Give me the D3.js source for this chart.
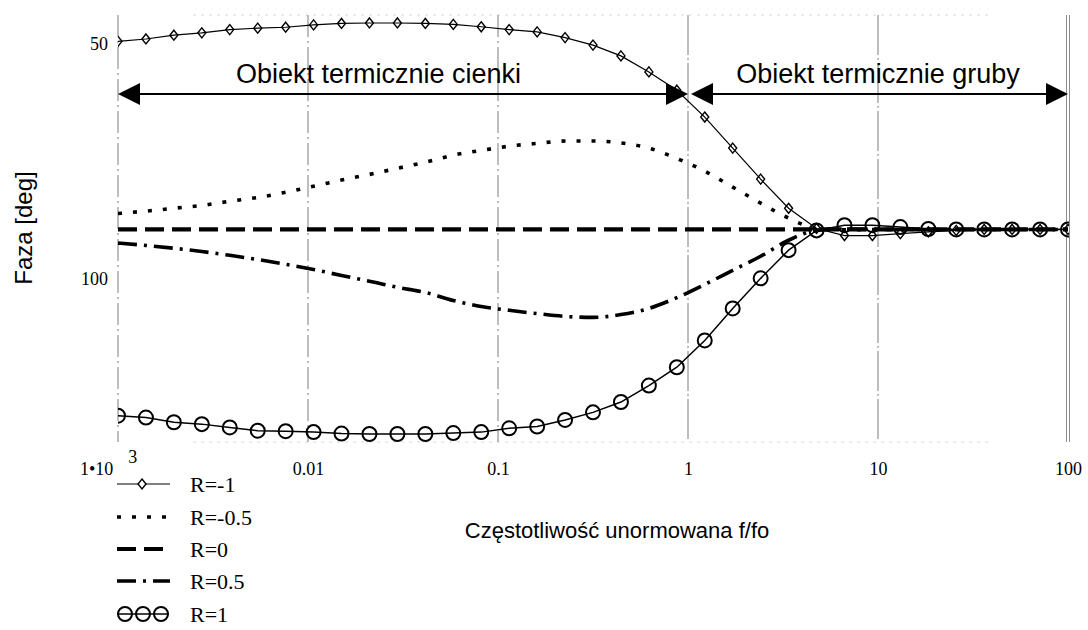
<!DOCTYPE html>
<html>
<head>
<meta charset="utf-8">
<script src="https://cdn.jsdelivr.net/npm/d3@7"></script>
<style>
  html, body { margin: 0; padding: 0; background: #fff; }
  svg { display: block; }
</style>
</head>
<body>
<svg id="chart" width="1088" height="630"></svg>
<script>
// Normalised frequency f/fo (log-spaced samples, 1e-3 .. 100)
const freq = [0.001, 0.001403, 0.001968, 0.002762, 0.003875, 0.005437, 0.007627,
  0.0107, 0.01501, 0.02106, 0.02955, 0.04146, 0.05818, 0.08162,
  0.1145, 0.1607, 0.2254, 0.3162, 0.4437, 0.6224, 0.8733,
  1.225, 1.719, 2.412, 3.384, 4.748, 6.661, 9.346,
  13.11, 18.40, 25.81, 36.21, 50.80, 71.28, 100];

// Phase [deg] for each reflection coefficient R
const phaseRm1 = [50.0, 49.5, 48.7, 48.2, 47.5, 47.2, 47.0, 46.5, 46.2, 46.1,
  46.1, 46.2, 46.4, 46.9, 47.5, 48.0, 49.2, 50.8, 53.1, 56.5,
  60.4, 66.1, 72.7, 79.3, 85.5, 89.8, 91.3, 91.3, 90.9, 90.5,
  90.2, 90.0, 90.0, 90.0, 90.0];
const phaseRm05 = [86.6, 86.1, 85.5, 84.9, 84.0, 83.2, 82.1, 80.8, 79.5, 78.3,
  77.0, 75.7, 74.2, 73.2, 72.3, 71.7, 71.2, 71.2, 71.6, 72.7,
  74.9, 77.6, 81.0, 84.4, 87.6, 89.8, 90.1, 90.0, 90.0, 90.0,
  90.0, 90.0, 90.0, 90.0, 90.0];
const phaseR0 = [90, 90, 90, 90, 90, 90, 90, 90, 90, 90,
  90, 90, 90, 90, 90, 90, 90, 90, 90, 90,
  90, 90, 90, 90, 90, 90, 90, 90, 90, 90,
  90, 90, 90, 90, 90];
const phaseR05 = [92.9, 93.4, 94.0, 94.7, 95.5, 96.4, 97.4, 98.5, 99.8, 101.0,
  102.3, 103.4, 105.1, 106.4, 107.2, 107.9, 108.5, 108.7, 108.1, 106.8,
  104.5, 101.7, 98.7, 95.7, 92.3, 90.2, 89.9, 90.0, 90.0, 90.0,
  90.0, 90.0, 90.0, 90.0, 90.0];
const phaseR1 = [129.6, 130.0, 131.0, 131.4, 132.1, 132.8, 132.9, 133.1, 133.4, 133.5,
  133.5, 133.5, 133.3, 133.1, 132.3, 131.9, 130.5, 128.9, 126.7, 123.2,
  119.3, 113.6, 106.8, 100.4, 94.4, 90.2, 89.1, 89.1, 89.5, 89.9,
  90.0, 90.0, 90.0, 90.0, 90.0];

const seriesNames = ["R=-1", "R=-0.5", "R=0", "R=0.5", "R=1"];
const xTicks = [0.001, 0.01, 0.1, 1, 10, 100];
const xTickLabels = ["1\u202210", "0.01", "0.1", "1", "10", "100"];
const yTicks = [50, 100];
const regionLabels = ["Obiekt termicznie cienki", "Obiekt termicznie gruby"];
const regionSpans = [[0.001, 1], [1, 100]];
const xTitle = "Częstotliwość unormowana f/fo";
const yTitle = "Faza [deg]";

const SERIF = "'Liberation Serif', 'Times New Roman', serif";
const SANS = "'Liberation Sans', Arial, sans-serif";

const svg = d3.select("#chart");

const x = d3.scaleLog().domain([0.001, 100]).range([118, 1068]);
const y = d3.scaleLinear().domain([44.4, 135.2]).range([15, 442]);
const [yTop, yBot] = y.range();

// line styles per series
const styles = [
  { dash: null,        width: 1.2, curve: d3.curveLinear,     marker: "diamond" },
  { dash: "4,11",      width: 3.6, curve: d3.curveMonotoneX,  marker: null },
  { dash: "19,8",      width: 4.2, curve: d3.curveMonotoneX,  marker: null },
  { dash: "19,7,3,7",  width: 3.6, curve: d3.curveMonotoneX,  marker: null },
  { dash: null,        width: 1.5, curve: d3.curveLinear,     marker: "circle" }
];
const seriesValues = [phaseRm1, phaseRm05, phaseR0, phaseR05, phaseR1];

// clip region for the plotted data
svg.append("defs").append("clipPath").attr("id", "plotClip")
  .append("rect").attr("x", x.range()[0]).attr("y", 0)
  .attr("width", x.range()[1] - x.range()[0] + 1).attr("height", yBot + 10);

// horizontal frame lines (faint dotted)
const frame = svg.append("g");
[yTop, yBot].forEach(v => {
  frame.append("line").attr("x1", x(0.0025)).attr("x2", x(40))
    .attr("y1", v).attr("y2", v)
    .attr("stroke", "#c8c8c8").attr("stroke-width", 1)
    .attr("stroke-dasharray", "2,6");
});

// vertical decade grid lines
xTicks.forEach((t, i) => {
  if (i === xTicks.length - 1) {
    [-1.5, 1.5].forEach(o => {
      frame.append("line").attr("x1", x(t) + o).attr("x2", x(t) + o)
        .attr("y1", yTop).attr("y2", yBot)
        .attr("stroke", "#8c8c8c").attr("stroke-width", 1);
    });
  } else {
    frame.append("line").attr("x1", x(t)).attr("x2", x(t))
      .attr("y1", yTop).attr("y2", yBot)
      .attr("stroke", "#7c7c7c").attr("stroke-width", 1)
      .attr("stroke-dasharray", i >= 3 ? "40,3,2,3" : "22,4,2,4");
  }
});

// data series
const plot = svg.append("g").attr("clip-path", "url(#plotClip)");
const diamondPath = (cx, cy) => `M${cx},${cy - 5}L${cx + 4},${cy}L${cx},${cy + 5}L${cx - 4},${cy}Z`;

seriesValues.forEach((vals, si) => {
  const st = styles[si];
  const pts = freq.map((f, i) => ({ f, v: vals[i] }));
  const line = d3.line().x(d => x(d.f)).y(d => y(d.v)).curve(st.curve);
  plot.append("path").datum(pts)
    .attr("d", line)
    .attr("fill", "none").attr("stroke", "#000")
    .attr("stroke-width", st.width)
    .attr("stroke-dasharray", st.dash);
  if (st.marker === "diamond") {
    plot.selectAll(null).data(pts).enter().append("path")
      .attr("d", d => diamondPath(x(d.f), y(d.v)))
      .attr("fill", "none").attr("stroke", "#000").attr("stroke-width", 1.4);
  } else if (st.marker === "circle") {
    plot.selectAll(null).data(pts).enter().append("circle")
      .attr("cx", d => x(d.f)).attr("cy", d => y(d.v)).attr("r", 7)
      .attr("fill", "none").attr("stroke", "#000").attr("stroke-width", 2);
  }
});

// region arrows with labels
const arrowY = 94;
const head = (tipX, dir) => {
  const L = 22, H = 11;
  return `M${tipX},${arrowY}L${tipX - dir * L},${arrowY - H}L${tipX - dir * L},${arrowY + H}Z`;
};
const regions = svg.append("g");
regionSpans.forEach((span, i) => {
  const x0 = x(span[0]) + (i === 1 ? 3 : 0);
  const x1 = x(span[1]);
  regions.append("line").attr("x1", x0 + 4).attr("x2", x1 - 4)
    .attr("y1", arrowY).attr("y2", arrowY)
    .attr("stroke", "#000").attr("stroke-width", 2);
  regions.append("path").attr("d", head(x0, -1)).attr("fill", "#000");
  regions.append("path").attr("d", head(x1, 1)).attr("fill", "#000");
});
const labelAt = [0.0235, 10];
regionLabels.forEach((t, i) => {
  regions.append("text").attr("x", x(labelAt[i])).attr("y", 83)
    .attr("text-anchor", "middle")
    .style("font-family", SANS).style("font-size", "27px").attr("fill", "#000")
    .text(t);
});

// y axis tick labels
const yAxis = d3.axisLeft(y).tickValues(yTicks).tickSize(0).tickPadding(10);
const gy = svg.append("g").attr("transform", `translate(${x.range()[0]},0)`).call(yAxis);
gy.select(".domain").remove();
gy.selectAll("text").style("font-family", SERIF).style("font-size", "18px")
  .attr("fill", "#000").attr("dy", "0.45em");

// x axis tick labels
const xAxis = d3.axisBottom(x).tickValues(xTicks)
  .tickFormat((d, i) => xTickLabels[i]).tickSize(0).tickPadding(20);
const gx = svg.append("g").attr("transform", `translate(0,${yBot})`).call(xAxis);
gx.select(".domain").remove();
gx.selectAll("text").style("font-family", SERIF).style("font-size", "18px").attr("fill", "#000");
gx.selectAll(".tick").filter(d => d === 0.001).select("text")
  .attr("dx", "-0.55em")
  .append("tspan").attr("dx", 15).attr("dy", -12).text("3");

// axis titles
svg.append("text").attr("transform", `translate(32,228) rotate(-90)`)
  .attr("text-anchor", "middle")
  .style("font-family", SANS).style("font-size", "24px").attr("fill", "#000")
  .text(yTitle);
svg.append("text").attr("x", 617).attr("y", 538)
  .attr("text-anchor", "middle")
  .style("font-family", SANS).style("font-size", "22px").attr("fill", "#000")
  .text(xTitle);

// legend
const legend = svg.append("g");
const legRows = [484, 517, 549, 581, 614];
seriesNames.forEach((name, i) => {
  const st = styles[i];
  const ly = legRows[i];
  const g = legend.append("g");
  if (st.marker === "circle") {
    g.append("line").attr("x1", 117).attr("x2", 169).attr("y1", ly).attr("y2", ly)
      .attr("stroke", "#000").attr("stroke-width", 1.5);
    [125, 143, 161].forEach(cx => g.append("circle").attr("cx", cx).attr("cy", ly).attr("r", 7)
      .attr("fill", "none").attr("stroke", "#000").attr("stroke-width", 2));
  } else {
    g.append("line").attr("x1", 117).attr("x2", 170).attr("y1", ly).attr("y2", ly)
      .attr("stroke", "#000").attr("stroke-width", st.width)
      .attr("stroke-dasharray", st.dash);
    if (st.marker === "diamond") {
      g.append("path").attr("d", diamondPath(142, ly))
        .attr("fill", "#fff").attr("stroke", "#000").attr("stroke-width", 1.4);
    }
  }
  g.append("text").attr("x", 190).attr("y", ly).attr("dy", "0.35em")
    .style("font-family", SERIF).style("font-size", "22px").attr("fill", "#000")
    .text(name);
});
</script>
</body>
</html>
